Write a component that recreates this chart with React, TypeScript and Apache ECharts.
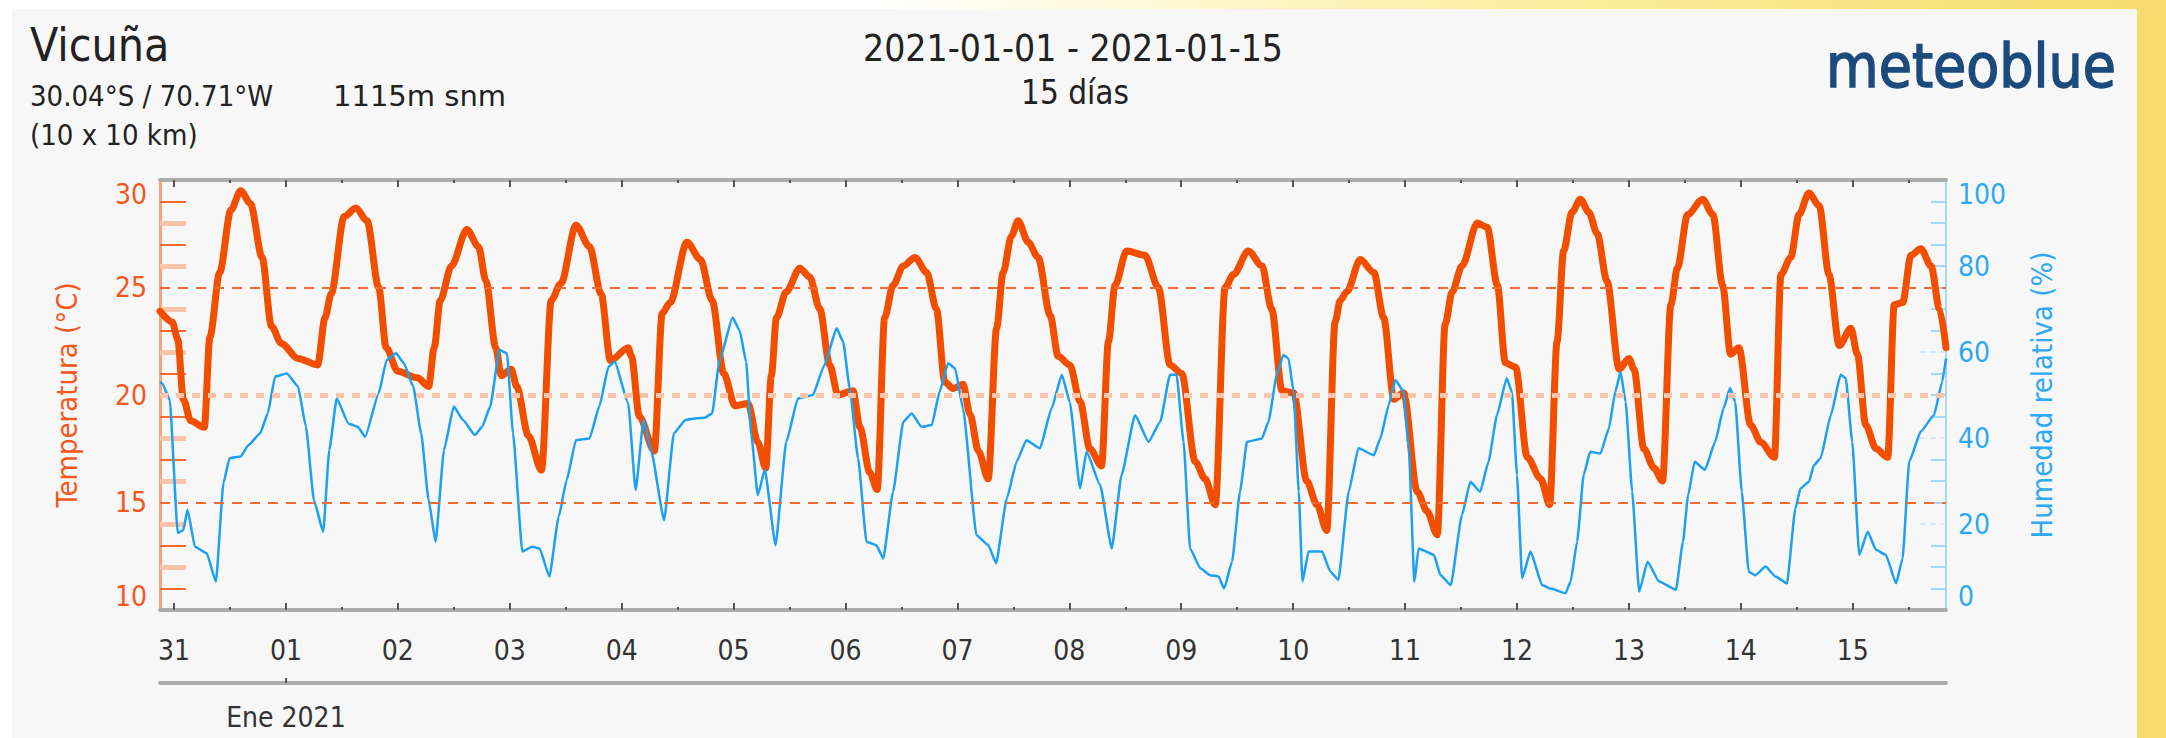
import React, { useEffect, useRef } from 'react';
import * as echarts from 'echarts';

// ---------- data ----------
const DAY_LABELS = ['31', '01', '02', '03', '04', '05', '06', '07', '08', '09', '10', '11', '12', '13', '14', '15'];
const MONTH_LABEL = 'Ene 2021';
const TEMP_LABELS = [10, 15, 20, 25, 30];
const HUM_LABELS = [0, 20, 40, 60, 80, 100];

// hours since 2020-12-31 00:00, temperature °C
const TEMPERATURE: [number, number][] = [
  [-3, 23.9], [-0.4, 23.4], [0.8, 22.6], [2.0, 19.8], [3.6, 18.8], [6.5, 18.5], [7.7, 22.7], [9.8, 25.7],
  [12.2, 28.6], [14.3, 29.5], [16.4, 28.9], [18.9, 26.4], [20.9, 23.2], [23, 22.4], [26.6, 21.7], [30.8, 21.4],
  [32.4, 23.6], [33.7, 24.7], [36.5, 28.3], [39, 28.7], [41.4, 28.1], [43.9, 25.0], [45.5, 22.2], [48, 21.1],
  [52.2, 20.8], [54.6, 20.4], [55.8, 22.2], [57.1, 24.4], [59.5, 26.0], [62.8, 27.7], [65.3, 26.9], [66.9, 25.3],
  [69, 22.2], [70.2, 20.9], [72.3, 21.2], [73.5, 20.4], [76, 18.1], [78.8, 16.5], [80.9, 24.4], [83, 25.2],
  [86.2, 27.9], [89.1, 26.9], [91.6, 24.7], [93.6, 21.6], [97.4, 22.2], [98.1, 21.8], [99.8, 19.0], [103, 17.4],
  [104.7, 23.8], [106.4, 24.3], [110, 27.1], [112.9, 26.3], [115.4, 24.4], [117.9, 21.0], [120.3, 19.5], [123.1, 19.6],
  [125.2, 17.8], [126.9, 16.6], [128.1, 20.9], [129.2, 23.6], [131.3, 24.8], [134.2, 25.9], [136.3, 25.5], [138.5, 24.0],
  [140.6, 21.4], [142.4, 20.0], [145.6, 20.2], [147.1, 18.5], [149.2, 16.4], [150.8, 15.6], [152.4, 23.6], [154.2, 25.1],
  [156.4, 26.0], [158.9, 26.4], [161.4, 25.7], [163.5, 24.0], [165.3, 20.6], [167.1, 20.3], [169.2, 20.5], [170.7, 19.1],
  [172.5, 17.4], [174.6, 16.1], [176.4, 23.1], [177.8, 25.7], [179.6, 27.4], [181.0, 28.1], [183.2, 27.1], [185.3, 26.4],
  [187.9, 23.7], [189.6, 21.8], [192.1, 21.4], [194.3, 19.7], [196.4, 17.5], [198.9, 16.7], [200.4, 22.5], [201.8, 25.1],
  [204.3, 26.7], [208.2, 26.5], [211.1, 25.0], [213.6, 21.4], [216.1, 21.0], [219.0, 16.9], [221.1, 16.1], [223.3, 14.9],
  [225.4, 25.0], [227.2, 25.6], [230.4, 26.7], [233.3, 26.0], [235.4, 24.0], [237.6, 20.2], [240.1, 20.1], [242.9, 16.0],
  [245.1, 14.9], [247.2, 13.7], [249.0, 23.4], [250.1, 24.4], [251.5, 24.8], [254.4, 26.3], [257.3, 25.7], [259.4, 23.6],
  [261.6, 19.8], [263.7, 20.1], [266.6, 15.5], [268.7, 14.6], [270.9, 13.5], [272.6, 23.3], [274.1, 24.8], [276.2, 26.0],
  [279.5, 28.0], [281.6, 27.8], [283.8, 25.1], [285.5, 21.5], [287.7, 21.3], [290.2, 17.1], [293.1, 16.1], [295.0, 14.9],
  [296.6, 22.5], [298.0, 26.7], [299.8, 28.5], [301.6, 29.1], [303.4, 28.5], [305.2, 27.5], [307.3, 25.3], [309.9, 21.2],
  [312.0, 21.7], [313.1, 21.2], [315.2, 17.5], [317.4, 16.6], [319.2, 16.0], [321.0, 24.2], [322.4, 25.9], [324.6, 28.4],
  [327.8, 29.1], [330.0, 28.4], [332.1, 25.1], [333.8, 21.9], [335.6, 22.2], [338.1, 18.6], [340.3, 17.8], [343.2, 17.1],
  [344.6, 25.6], [346.7, 26.4], [348.5, 28.4], [350.6, 29.4], [352.8, 28.8], [354.9, 25.6], [357.1, 22.3], [359.6, 23.1],
  [361.0, 21.9], [362.8, 18.6], [365.0, 17.5], [367.5, 17.1], [368.9, 24.2], [370.7, 24.3], [372.5, 26.5], [374.6, 26.8],
  [376.8, 26.0], [378.6, 24.0], [380.0, 22.2],
];

// hours since 2020-12-31 00:00, relative humidity %
const HUMIDITY: [number, number][] = [
  [-3, 53.0], [-2.5, 52.7], [-0.9, 48.8], [0.8, 17.9], [2.0, 18.6], [2.9, 23.3], [4.5, 14.7], [7, 13.2],
  [9, 6.6], [10.6, 29.5], [11.9, 35.3], [14.3, 35.7], [16, 38.4], [18.5, 41.1], [20.1, 45.7], [21.7, 54.3],
  [24.2, 55.0], [26.6, 52.0], [28.3, 42.6], [30, 25.6], [32, 18.2], [33.3, 37.2], [34.9, 49.2], [37.4, 43.4],
  [39.4, 42.6], [41, 40.3], [43.9, 50.4], [45.6, 58.1], [47.6, 59.7], [49.3, 57.4], [51.3, 52.0], [53, 41.1],
  [54.6, 25.6], [56.1, 15.9], [57.9, 37.2], [60, 47.3], [62, 44.2], [64.5, 40.7], [66.1, 42.6], [67.8, 47.3],
  [69.8, 60.5], [71.4, 59.7], [72.7, 41.1], [74.7, 13.6], [76.8, 14.7], [78.4, 14.3], [80.5, 7.8], [82.5, 21.7],
  [84.2, 30.2], [86.2, 39.5], [89.1, 39.9], [91.2, 47.3], [93.2, 56.6], [94.5, 57.8], [97.4, 48.1], [99, 27.9],
  [100.7, 44.2], [102.3, 37.2], [105.1, 20.9], [107.2, 41.1], [109.7, 44.2], [112.1, 44.6], [113.8, 44.7], [115.4, 45.7],
  [117, 58.1], [119.8, 68.0], [121.3, 65.0], [122.7, 57.7], [123.8, 40.7], [125.2, 26.7], [126.7, 32.6], [129.0, 15.1],
  [131.3, 39.1], [133.8, 49.2], [137.0, 50.0], [139.5, 57.0], [142.1, 65.5], [143.5, 62.4], [144.9, 51.6], [146.7, 35.3],
  [148.5, 15.9], [150.6, 15.1], [152.1, 12.0], [154.2, 27.5], [156.4, 43.8], [158.2, 45.7], [160.3, 42.6], [162.5, 43.0],
  [164.2, 50.8], [166.0, 57.4], [167.5, 56.2], [169.2, 46.9], [172.1, 17.4], [174.6, 15.1], [176.3, 10.9], [178.6, 26.0],
  [180.7, 34.5], [182.8, 39.5], [185.7, 37.6], [188.2, 46.9], [190.4, 54.7], [192.1, 48.4], [194.3, 28.3], [195.7, 36.8],
  [198.6, 29.1], [201.1, 14.3], [203.2, 31.4], [206.1, 45.3], [209.0, 39.1], [211.5, 43.8], [213.6, 54.7], [215.0, 54.7],
  [216.5, 39.1], [217.9, 14.3], [220.1, 9.7], [222.2, 8.1], [224.0, 7.8], [225.2, 5.0], [226.9, 11.2], [228.6, 27.5],
  [230.1, 39.1], [233.3, 39.9], [234.7, 43.8], [236.5, 54.7], [237.9, 59.3], [239.0, 58.5], [240.1, 50.8], [241.2, 27.5],
  [242.0, 6.6], [243.3, 13.6], [246.2, 13.6], [248.0, 8.9], [249.7, 7.0], [251.9, 27.5], [254.0, 37.6], [257.3, 36.0],
  [258.7, 39.9], [260.5, 47.7], [261.9, 53.5], [263.7, 50.8], [264.8, 37.6], [266.0, 6.6], [266.9, 14.3], [270.2, 12.8],
  [271.6, 8.1], [273.8, 5.8], [276.2, 22.1], [278.0, 29.8], [280.1, 27.5], [281.9, 34.5], [283.7, 45.3], [285.8, 53.9],
  [286.9, 50.8], [288.0, 31.4], [289.1, 7.4], [290.9, 13.6], [293.4, 5.8], [295.2, 5.0], [298.4, 3.9], [299.5, 6.6],
  [300.9, 15.9], [302.3, 31.4], [303.7, 36.8], [305.9, 36.4], [307.7, 42.2], [309.1, 50.8], [310.2, 55.4], [311.3, 48.4],
  [312.7, 27.5], [314.2, 4.3], [316.0, 11.2], [318.5, 6.6], [322.1, 4.7], [323.6, 15.9], [324.7, 26.7], [326.1, 34.5],
  [328.3, 32.6], [330.5, 39.1], [332.3, 46.9], [333.7, 51.6], [334.8, 48.4], [336.2, 27.5], [337.7, 8.9], [339.1, 8.1],
  [341.3, 10.1], [343.4, 7.8], [345.9, 6.2], [347.7, 23.6], [348.8, 28.3], [350.6, 29.8], [351.7, 33.7], [353.1, 35.3],
  [355.3, 45.3], [357.4, 54.7], [358.5, 53.9], [359.9, 39.1], [361.4, 12.8], [363.2, 18.2], [365.0, 14.0], [367.1, 12.8],
  [369.3, 6.2], [370.7, 12.0], [372.1, 34.5], [374.6, 41.5], [377.4, 45.3], [379.2, 53.1], [380.0, 58.5],
];

const TEMP_REF_LINES = [25, 20, 15];
const TEMP_MINOR_ODD = [11, 13, 17, 19, 21, 23, 27, 29];
const TEMP_MINOR_EVEN = [12, 14, 16, 18, 22, 24, 26, 28];
const HUM_MINOR = [5, 10, 15, 25, 30, 35, 45, 50, 55, 65, 70, 75, 80, 85, 90, 95];
const HUM_MINOR_LIGHT = [20, 40, 60];

const TITLE_PLACE = 'Vicuña';
const TITLE_COORDS = '30.04°S / 70.71°W';
const TITLE_ELEV = '1115m snm';
const TITLE_RES = '(10 x 10 km)';
const TITLE_RANGE = '2021-01-01 - 2021-01-15';
const TITLE_DAYS = '15 días';
const BRAND = 'meteoblue';

// ---------- style ----------
const FONT = '"DejaVu Sans Condensed", "DejaVu Sans", sans-serif';
const FONT_WIDE = '"DejaVu Sans", sans-serif';
const ORANGE = '#f24e00';
const ORANGE_TEXT = '#f5581c';
const ORANGE_LIGHT = '#f9c4aa';
const ORANGE_MID = '#f46a30';
const BLUE = '#1ea0f0';
const BLUE_TEXT = '#2fa8f2';
const GRAY = '#acacac';
const X_MIN = -3;
const X_MAX = 380;

export default function App() {
  const ref = useRef<HTMLDivElement>(null);

  useEffect(() => {
    if (!ref.current) return;
    const chart = echarts.init(ref.current, null, { renderer: 'svg' });
    const dayHours = DAY_LABELS.map((_, i) => i * 24);
    const noonHours = dayHours.map((h) => h + 12).filter((h) => h < X_MAX);

    const hiddenX = (extra: any) => ({
      type: 'value',
      min: X_MIN,
      max: X_MAX,
      gridIndex: 0,
      splitLine: { show: false },
      axisLine: { show: false, onZero: false },
      axisTick: { show: false },
      axisLabel: { show: false },
      ...extra,
    });

    const hiddenY = (extra: any) => ({
      type: 'value',
      gridIndex: 0,
      splitLine: { show: false },
      axisLine: { show: false, onZero: false },
      axisLabel: { show: false },
      ...extra,
    });

    const option: any = {
      animation: false,
      backgroundColor: 'transparent',
      textStyle: { fontFamily: FONT },
      grid: { left: 160, right: 220, top: 180, bottom: 128, containLabel: false, outerBoundsMode: 'none' },
      xAxis: [
        hiddenX({
          position: 'bottom',
          axisLine: { show: true, onZero: false, lineStyle: { color: GRAY, width: 4 } },
          axisTick: { show: true, customValues: dayHours, inside: true, length: 7, lineStyle: { color: '#555', width: 2 } },
          axisLabel: {
            show: true,
            customValues: dayHours,
            formatter: (v: number) => DAY_LABELS[Math.round(v / 24)] ?? '',
            fontSize: 28,
            color: '#333',
            margin: 26,
            fontFamily: FONT,
          },
        }),
        hiddenX({
          position: 'bottom',
          axisTick: { show: true, customValues: noonHours, inside: true, length: 3, lineStyle: { color: '#555', width: 2 } },
        }),
        hiddenX({
          position: 'top',
          axisLine: { show: true, onZero: false, lineStyle: { color: GRAY, width: 4 } },
          axisTick: { show: true, customValues: dayHours, inside: true, length: 7, lineStyle: { color: '#555', width: 2 } },
        }),
        hiddenX({
          position: 'top',
          axisTick: { show: true, customValues: noonHours, inside: true, length: 3, lineStyle: { color: '#555', width: 2 } },
        }),
        hiddenX({
          position: 'bottom',
          offset: 73,
          axisLine: { show: true, onZero: false, lineStyle: { color: GRAY, width: 4 } },
          axisTick: { show: true, customValues: [24], inside: true, length: 5, lineStyle: { color: '#555', width: 2 } },
          axisLabel: {
            show: true,
            customValues: [24],
            formatter: () => MONTH_LABEL,
            fontSize: 28,
            color: '#333',
            margin: 20,
            fontFamily: FONT,
          },
        }),
      ],
      yAxis: [
        {
          type: 'value',
          position: 'left',
          min: TEMP_LABELS[0],
          max: TEMP_LABELS[TEMP_LABELS.length - 1],
          interval: 5,
          splitLine: { show: false },
          axisLine: { show: true, onZero: false, lineStyle: { color: '#f8a37e', width: 3 } },
          axisTick: { show: false },
          axisLabel: {
            color: ORANGE_TEXT,
            fontSize: 28,
            margin: 13,
            fontFamily: FONT,
            verticalAlignMaxLabel: 'top',
            verticalAlignMinLabel: 'bottom',
          },
          name: 'Temperatura (°C)',
          nameLocation: 'middle',
          nameRotate: 90,
          nameGap: 79,
          nameTextStyle: { color: ORANGE_TEXT, fontSize: 29, fontFamily: FONT },
        },
        {
          type: 'value',
          position: 'right',
          min: HUM_LABELS[0],
          max: HUM_LABELS[HUM_LABELS.length - 1],
          interval: 20,
          splitLine: { show: false },
          axisLine: { show: true, onZero: false, lineStyle: { color: '#a9d9f8', width: 2 } },
          axisTick: { show: false },
          axisLabel: {
            color: BLUE_TEXT,
            fontSize: 28,
            margin: 12,
            fontFamily: FONT,
            verticalAlignMaxLabel: 'top',
            verticalAlignMinLabel: 'bottom',
          },
          name: 'Humedad relativa (%)',
          nameLocation: 'middle',
          nameRotate: 90,
          nameGap: 81,
          nameTextStyle: { color: BLUE_TEXT, fontSize: 29, fontFamily: FONT },
        },
        hiddenY({
          position: 'left', min: 10, max: 30,
          axisTick: { show: true, customValues: TEMP_MINOR_ODD, inside: true, length: 26, lineStyle: { color: ORANGE_MID, width: 2 } },
        }),
        hiddenY({
          position: 'left', min: 10, max: 30,
          axisTick: { show: true, customValues: TEMP_MINOR_EVEN, inside: true, length: 26, lineStyle: { color: ORANGE_LIGHT, width: 5 } },
        }),
        hiddenY({
          position: 'right', min: 0, max: 100,
          axisTick: { show: true, customValues: HUM_MINOR, inside: true, length: 15, lineStyle: { color: '#a3d6f7', width: 2 } },
        }),
        hiddenY({
          position: 'right', min: 0, max: 100,
          axisTick: { show: true, customValues: HUM_MINOR_LIGHT, inside: true, length: 28, lineStyle: { color: '#d3ebfb', width: 2, type: [6, 4] } },
        }),
      ],
      series: [
        {
          type: 'line',
          name: 'ref',
          xAxisIndex: 0,
          yAxisIndex: 0,
          data: [],
          z: 1,
          silent: true,
          markLine: {
            silent: true,
            symbol: ['none', 'none'],
            label: { show: false },
            data: TEMP_REF_LINES.map((v) => ({
              yAxis: v,
              lineStyle: v === 20
                ? { color: ORANGE_LIGHT, width: 5, type: [8, 8] }
                : { color: ORANGE_MID, width: 2, type: [10, 8] },
            })),
          },
        },
        {
          type: 'line',
          name: 'Temperatura',
          xAxisIndex: 0,
          yAxisIndex: 0,
          data: TEMPERATURE,
          symbol: 'none',
          smooth: 0.3,
          smoothMonotone: 'x',
          z: 3,
          lineStyle: { color: ORANGE, width: 7, join: 'round', cap: 'round' },
        },
        {
          type: 'line',
          name: 'Humedad relativa',
          xAxisIndex: 0,
          yAxisIndex: 1,
          data: HUMIDITY,
          symbol: 'none',
          smooth: 0.15,
          smoothMonotone: 'x',
          z: 4,
          lineStyle: { color: BLUE, width: 2.5, join: 'round' },
        },
      ],
      graphic: [
        { type: 'text', x: 30, y: 45, style: { text: TITLE_PLACE, fill: '#222', font: `46px ${FONT}`, align: 'left', verticalAlign: 'middle' } },
        { type: 'text', x: 30, y: 96, style: { text: TITLE_COORDS, fill: '#222', font: `29px ${FONT}`, align: 'left', verticalAlign: 'middle' } },
        { type: 'text', x: 333, y: 96, style: { text: TITLE_ELEV, fill: '#222', font: `29px ${FONT_WIDE}`, align: 'left', verticalAlign: 'middle' } },
        { type: 'text', x: 30, y: 135, style: { text: TITLE_RES, fill: '#222', font: `29px ${FONT}`, align: 'left', verticalAlign: 'middle' } },
        { type: 'text', x: 1073, y: 48, style: { text: TITLE_RANGE, fill: '#222', font: `37px ${FONT}`, align: 'center', verticalAlign: 'middle' } },
        { type: 'text', x: 1075, y: 92, style: { text: TITLE_DAYS, fill: '#222', font: `33px ${FONT}`, align: 'center', verticalAlign: 'middle' } },
        {
          type: 'text', x: 2116, y: 66,
          style: { text: BRAND, fill: '#1b4a7c', stroke: '#1b4a7c', lineWidth: 1.4, font: `60px ${FONT}`, align: 'right', verticalAlign: 'middle' },
        },
      ],
    };

    chart.setOption(option);
    return () => chart.dispose();
  }, []);

  return (
    <div
      style={{
        position: 'fixed',
        left: 0,
        top: 0,
        width: 2166,
        height: 738,
        background: 'linear-gradient(90deg, #ffffff 0%, #ffffff 40%, #fcf0a6 68%, #f6dc6b 100%)',
      }}
    >
      <div style={{ position: 'absolute', left: 12, top: 9, width: 2125, height: 729, background: '#f7f7f7' }} />
      <div ref={ref} style={{ position: 'absolute', left: 0, top: 0, width: 2166, height: 738 }} />
    </div>
  );
}
